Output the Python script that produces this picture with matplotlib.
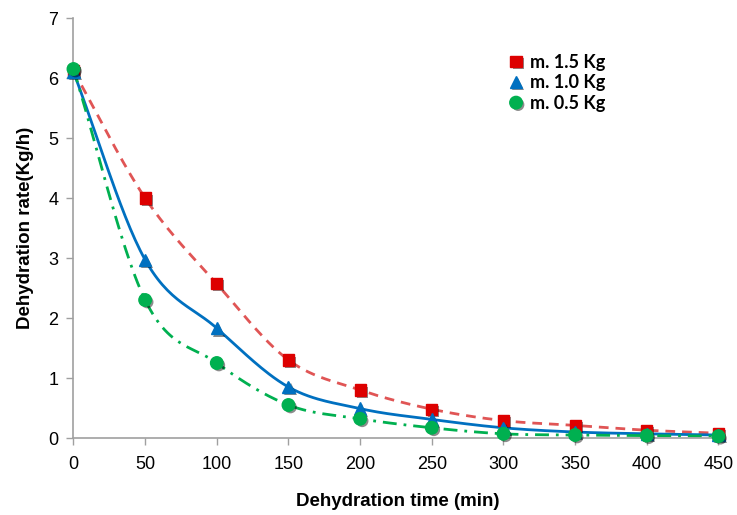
import numpy as np
import matplotlib
matplotlib.use("Agg")
import matplotlib.pyplot as plt
import matplotlib.patheffects as pe

time_min = [0, 50, 100, 150, 200, 250, 300, 350, 400, 450]
rate_15 = [6.12, 4.00, 2.57, 1.30, 0.80, 0.48, 0.29, 0.21, 0.13, 0.08]
rate_10 = [6.10, 2.97, 1.83, 0.85, 0.49, 0.31, 0.17, 0.10, 0.07, 0.05]
rate_05 = [6.15, 2.30, 1.25, 0.55, 0.32, 0.17, 0.07, 0.05, 0.04, 0.03]
labels = ["m. 1.5 Kg", "m. 1.0 Kg", "m. 0.5 Kg"]
xticks = [0, 50, 100, 150, 200, 250, 300, 350, 400, 450]
yticks = [0, 1, 2, 3, 4, 5, 6, 7]


def smooth(x, y, n=30):
    # Catmull-Rom style curve through the points (like Excel smoothed lines)
    x = np.asarray(x, float)
    y = np.asarray(y, float)
    px = np.concatenate([[2 * x[0] - x[1]], x, [2 * x[-1] - x[-2]]])
    py = np.concatenate([[2 * y[0] - y[1]], y, [2 * y[-1] - y[-2]]])
    xs, ys = [], []
    t = np.linspace(0, 1, n)
    for i in range(1, len(px) - 2):
        p0, p1, p2, p3 = [np.array([px[j], py[j]]) for j in (i - 1, i, i + 1, i + 2)]
        m1 = (p2 - p0) / 6.0
        m2 = (p3 - p1) / 6.0
        c1 = p1 + m1
        c2 = p2 - m2
        pts = ((1 - t) ** 3)[:, None] * p1 + (3 * (1 - t) ** 2 * t)[:, None] * c1 + \
              (3 * (1 - t) * t ** 2)[:, None] * c2 + (t ** 3)[:, None] * p2
        xs.extend(pts[:, 0])
        ys.extend(pts[:, 1])
    return np.array(xs), np.array(ys)


fig = plt.figure(figsize=(7.37, 5.15), dpi=100)
ax = fig.add_axes([0.0997, 0.1495, 0.879, 0.8155])

series = [
    (rate_15, "#E05555", "#DD0000", "s", (0, (3.5, 2.5)), 8),
    (rate_10, "#0070C0", "#0070C0", "^", "-", 9),
    (rate_05, "#00B050", "#00B050", "o", (0, (5, 2.5, 1, 2.5)), 9),
]

shadow = [pe.SimplePatchShadow(offset=(1.5, -1.5), shadow_rgbFace="black", alpha=0.45), pe.Normal()]

for (vals, lc, mc, mk, ls, ms), lab in zip(series, labels):
    sx, sy = smooth(time_min, vals)
    ax.plot(sx, sy, color=lc, lw=2.0, ls=ls, zorder=2, clip_on=False)
    ax.plot(time_min, vals, ls="none", marker=mk, ms=ms, color=mc, mec=mc,
            zorder=3, path_effects=shadow, label=lab, clip_on=False)

ax.set_xlim(0, 452)
ax.set_ylim(0, 7)
ax.set_xticks(xticks)
ax.set_yticks(yticks)
for s in ["top", "right"]:
    ax.spines[s].set_visible(False)
for s in ["left", "bottom"]:
    ax.spines[s].set_color("#A0A0A0")
    ax.spines[s].set_linewidth(1.2)
ax.tick_params(axis="both", colors="#A0A0A0", length=5, width=1.0, direction="out",
               labelcolor="black", labelsize=13)
ax.tick_params(axis="x", pad=8)
ax.tick_params(axis="y", pad=6)
for t in ax.get_xticklabels() + ax.get_yticklabels():
    t.set_fontfamily("Liberation Sans")

ax.set_xlabel("Dehydration time (min)", fontsize=13.5, fontweight="bold",
              fontfamily="Liberation Sans", labelpad=14)
ax.set_ylabel("Dehydration rate(Kg/h)", fontsize=13.5, fontweight="bold",
              fontfamily="Liberation Sans", labelpad=10)

leg = ax.legend(loc="upper left", frameon=False,
                prop={"family": "Lato", "weight": "bold", "size": 13},
                handlelength=0.8, handletextpad=0.4, labelspacing=0.2, borderaxespad=0,
                borderpad=0)
leg.set_bbox_to_anchor((0.672, 0.915), transform=ax.transAxes)

fig.savefig("out.png", dpi=100)
